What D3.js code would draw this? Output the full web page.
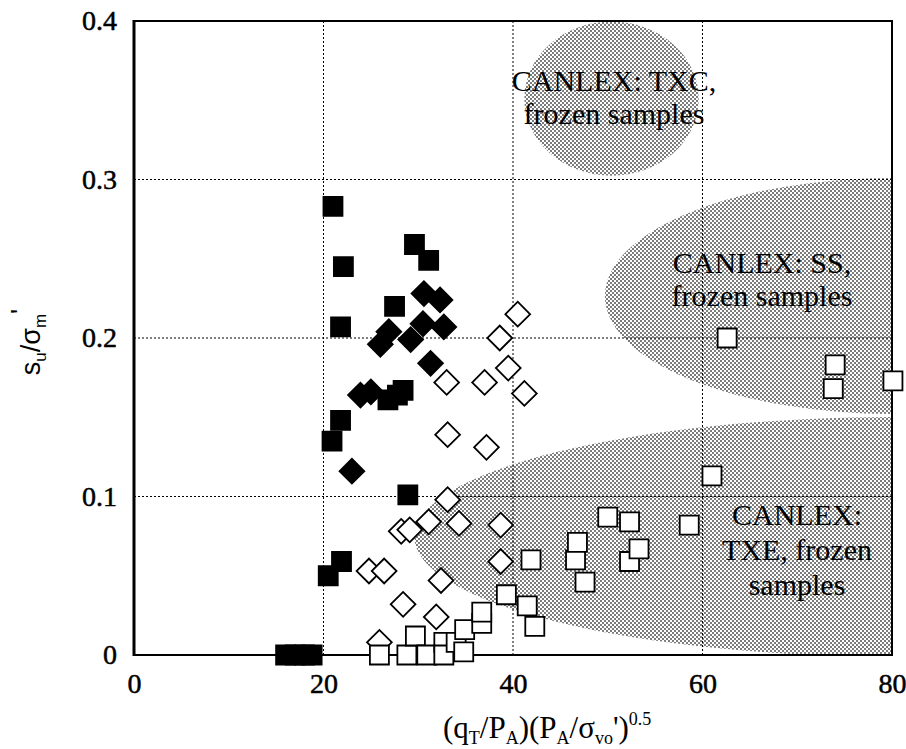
<!DOCTYPE html>
<html>
<meta charset="utf-8">
<head>
    <script src="https://d3js.org/d3.v7.min.js"></script>
    <style>
        body { margin: 0; background: #fff; }
        text { font-family: "Liberation Serif", "Times New Roman", serif; fill: #000; }
    </style>
</head>
<body>
    <script>
        // axis ticks
        var xTicks = [0, 20, 40, 60, 80];
        var yTicks = [0, 0.1, 0.2, 0.3, 0.4];

        // [x, y] = [(qT/PA)(PA/svo')^0.5, su/sm']
        var filledSquares = [
            [21.0, 0.283], [22.1, 0.245], [21.8, 0.207], [29.6, 0.259], [31.1, 0.249],
            [27.5, 0.220], [26.8, 0.161], [27.8, 0.164], [28.4, 0.167], [21.8, 0.148],
            [20.9, 0.135], [28.9, 0.101], [21.9, 0.059], [20.5, 0.050],
            [16.0, 0], [17.0, 0], [18.0, 0], [18.8, 0]
        ];
        var filledDiamonds = [
            [30.6, 0.228], [32.3, 0.224], [30.5, 0.209], [32.7, 0.207], [29.2, 0.199],
            [26.9, 0.204], [26.0, 0.196], [31.3, 0.184], [23.9, 0.164], [25.0, 0.166],
            [23.0, 0.116]
        ];
        var openDiamonds = [
            [38.6, 0.200], [40.5, 0.215], [39.5, 0.181], [33.0, 0.172], [37.0, 0.172],
            [41.2, 0.165], [33.1, 0.139], [37.2, 0.131], [33.1, 0.098], [31.1, 0.084],
            [34.3, 0.083], [38.7, 0.082], [28.2, 0.078], [29.1, 0.079], [38.7, 0.059],
            [24.8, 0.053], [26.4, 0.053], [32.4, 0.047], [28.4, 0.032], [31.9, 0.024],
            [25.9, 0.008]
        ];
        var openSquares = [
            [25.9, 0], [28.8, 0], [29.7, 0.012], [30.9, 0], [32.7, 0.008], [32.7, 0],
            [34.0, 0.008], [34.8, 0.002], [34.9, 0.016], [36.7, 0.020], [36.7, 0.027],
            [39.3, 0.038], [41.5, 0.031], [42.3, 0.018], [41.9, 0.060], [46.6, 0.060],
            [46.8, 0.071], [47.6, 0.046], [50.0, 0.087], [52.3, 0.084], [52.3, 0.059],
            [53.3, 0.067], [58.6, 0.082], [61.0, 0.113], [62.6, 0.200], [74.0, 0.183],
            [73.8, 0.168], [80.1, 0.173]
        ];

        // CANLEX frozen-sample zones: centre x, centre y, half-width, half-height
        var zoneTXC = [50.4, 0.351, 9.2, 0.0486];
        var zoneSS = [80.3, 0.2265, 30.6, 0.0745];
        var zoneTXE = [80.8, 0.0745, 51.2, 0.0757];

        var labelTXC = ["CANLEX: TXC,", "frozen samples"];
        var labelSS = ["CANLEX: SS,", "frozen samples"];
        var labelTXE = ["CANLEX:", "TXE, frozen", "samples"];

        var width = 906,
            height = 749,
            pl = 134, pt = 21, pr = 892, pb = 655;

        var svg = d3.select("body").append("svg")
            .attr("width", width)
            .attr("height", height);

        var x = d3.scaleLinear().domain([0, 80]).range([pl, pr]);
        var y = d3.scaleLinear().domain([0, 0.4]).range([pb, pt]);

        // stipple fill
        var defs = svg.append("defs");
        var pat = defs.append("pattern")
            .attr("id", "dots")
            .attr("patternUnits", "userSpaceOnUse")
            .attr("width", 4).attr("height", 4);
        pat.append("rect").attr("width", 4).attr("height", 4).attr("fill", "#fff");
        pat.append("rect").attr("width", 2).attr("height", 2).attr("fill", "#7c7c7c");
        pat.append("rect").attr("x", 2).attr("y", 2).attr("width", 2).attr("height", 2).attr("fill", "#7c7c7c");

        defs.append("clipPath").attr("id", "plot")
            .append("rect")
            .attr("x", pl).attr("y", pt)
            .attr("width", pr - pl).attr("height", pb - pt);

        var zones = svg.append("g").attr("clip-path", "url(#plot)");
        [zoneTXC, zoneSS, zoneTXE].forEach(function(z) {
            zones.append("ellipse")
                .attr("cx", x(z[0]))
                .attr("cy", y(z[1]))
                .attr("rx", x(z[2]) - x(0))
                .attr("ry", y(0) - y(z[3]))
                .attr("fill", "url(#dots)");
        });

        // dotted grid
        var grid = svg.append("g")
            .attr("stroke", "#000")
            .attr("stroke-width", 1)
            .attr("stroke-dasharray", "2,2");
        grid.selectAll(".gx")
            .data(xTicks.slice(1, -1))
            .enter().append("line")
            .attr("x1", function(d) { return x(d); })
            .attr("x2", function(d) { return x(d); })
            .attr("y1", pt).attr("y2", pb);
        grid.selectAll(".gy")
            .data(yTicks.slice(1, -1))
            .enter().append("line")
            .attr("y1", function(d) { return y(d); })
            .attr("y2", function(d) { return y(d); })
            .attr("x1", pl).attr("x2", pr);

        // frame
        svg.append("rect")
            .attr("x", pl).attr("y", pt)
            .attr("width", pr - pl).attr("height", pb - pt)
            .attr("fill", "none")
            .attr("stroke", "#000")
            .attr("stroke-width", 2);
        svg.append("line")
            .attr("x1", pl).attr("x2", pl)
            .attr("y1", pt - 1).attr("y2", pb + 1)
            .attr("stroke", "#000").attr("stroke-width", 3);

        // axes
        var xAxis = svg.append("g")
            .attr("transform", "translate(0," + pb + ")")
            .call(d3.axisBottom(x).tickValues(xTicks).tickSize(0).tickPadding(18).tickFormat(d3.format("d")));
        var yAxis = svg.append("g")
            .attr("transform", "translate(" + pl + ",0)")
            .call(d3.axisLeft(y).tickValues(yTicks).tickSize(0).tickPadding(17)
                .tickFormat(function(d) { return d === 0 ? "0" : d3.format(".1f")(d); }));
        [xAxis, yAxis].forEach(function(a) {
            a.select(".domain").remove();
            a.selectAll("text")
                .style("font-family", "'Liberation Serif', serif")
                .style("font-size", "28px")
                .attr("fill", "#000")
                .attr("stroke", "#000")
                .attr("stroke-width", 0.5);
        });

        // zone labels
        function label(lines, cx, y0, step) {
            var t = svg.append("text")
                .attr("text-anchor", "middle")
                .style("font-size", "30px")
                .style("letter-spacing", "0px");
            lines.forEach(function(s, i) {
                t.append("tspan").attr("x", cx).attr("y", y0 + i * step).text(s);
            });
        }
        label(labelTXC, 614, 91, 33);
        label(labelSS, 762, 273, 33);
        label(labelTXE, 797, 525, 35);

        // markers
        var sq = d3.symbol().type(d3.symbolSquare).size(19 * 19);
        var dm = d3.symbol().type(d3.symbolSquare).size(17.5 * 17.5);
        function draw(data, sym, rot, fill) {
            svg.append("g").selectAll("path")
                .data(data)
                .enter().append("path")
                .attr("d", sym)
                .attr("transform", function(d) {
                    return "translate(" + x(d[0]) + "," + y(d[1]) + ") rotate(" + rot + ")";
                })
                .attr("fill", fill)
                .attr("stroke", "#000")
                .attr("stroke-width", 1.8);
        }
        draw(openDiamonds, dm, 45, "#fff");
        draw(openSquares, sq, 0, "#fff");
        draw(filledDiamonds, dm, 45, "#000");
        draw(filledSquares, sq, 0, "#000");

        // axis titles
        var xt = svg.append("text")
            .attr("x", 443).attr("y", 738)
            .style("font-size", "31px");
        xt.append("tspan").text("(q");
        xt.append("tspan").attr("dy", 6).style("font-size", "18px").text("T");
        xt.append("tspan").attr("dy", -6).text("/P");
        xt.append("tspan").attr("dy", 6).style("font-size", "18px").text("A");
        xt.append("tspan").attr("dy", -6).text(")(P");
        xt.append("tspan").attr("dy", 6).style("font-size", "18px").text("A");
        xt.append("tspan").attr("dy", -6).text("/σ");
        xt.append("tspan").attr("dy", 6).style("font-size", "18px").text("vo");
        xt.append("tspan").attr("dy", -6).text("')");
        xt.append("tspan").attr("dy", -13).style("font-size", "18px").text("0.5");

        var yt = svg.append("text")
            .attr("transform", "translate(40,342) rotate(-90)")
            .attr("text-anchor", "middle")
            .style("font-family", "'Liberation Sans', Arial, sans-serif")
            .style("font-size", "27px");
        yt.append("tspan").text("s");
        yt.append("tspan").attr("dy", 6).style("font-size", "17px").text("u");
        yt.append("tspan").attr("dy", -6).text("/σ");
        yt.append("tspan").attr("dy", 6).style("font-size", "17px").text("m");
        yt.append("tspan").attr("dy", -16).text("'");
    </script>
</body>
</html>
